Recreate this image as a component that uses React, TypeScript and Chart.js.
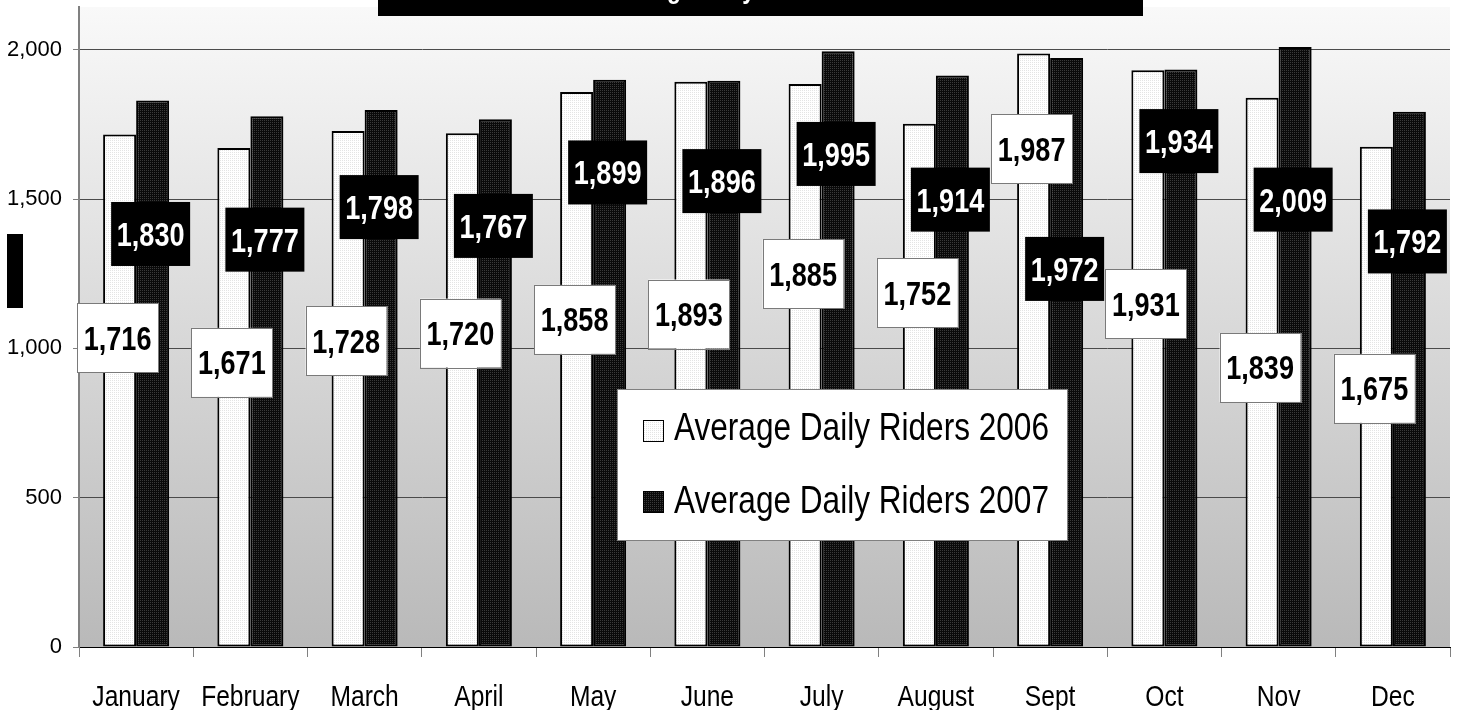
import React, { useEffect, useRef } from "react";
import { Chart, registerables } from "chart.js";

Chart.register(...registerables);

const months = ["January", "February", "March", "April", "May", "June", "July", "August", "Sept", "Oct", "Nov", "Dec"];
const riders2006 = [1716, 1671, 1728, 1720, 1858, 1893, 1885, 1752, 1987, 1931, 1839, 1675];
const riders2007 = [1830, 1777, 1798, 1767, 1899, 1896, 1995, 1914, 1972, 1934, 2009, 1792];
// where each value label box sits (in axis units), as placed in the original
const labelAt2006 = [1035, 953, 1026, 1051, 1097, 1115, 1249, 1187, 1669, 1150, 936, 866];
const labelAt2007 = [1383, 1364, 1473, 1410, 1589, 1560, 1651, 1498, 1266, 1694, 1498, 1358];
const yTicks = [0, 500, 1000, 1500, 2000];
const seriesNames = ["Average Daily Riders 2006", "Average Daily Riders 2007"];
const titleText = "Average Daily Riders";

const SANS = '"Liberation Sans", Arial, sans-serif';
const NARROW_SCALE = 0.82;

function makePattern(base: string, dot: string): CanvasPattern | string {
  const c = document.createElement("canvas");
  c.width = 2;
  c.height = 2;
  const x = c.getContext("2d");
  if (!x) return base;
  x.fillStyle = base;
  x.fillRect(0, 0, 2, 2);
  x.fillStyle = dot;
  x.fillRect(0, 0, 1, 1);
  const p = x.createPattern(c, "repeat");
  return p || base;
}

const fmt = (v: number) => v.toLocaleString("en-US");

// draw text in a condensed (Arial Narrow-like) style
function narrowText(
  ctx: CanvasRenderingContext2D,
  text: string,
  x: number,
  y: number,
  size: number,
  weight: string,
  align: CanvasTextAlign,
  color: string
) {
  ctx.save();
  ctx.font = `${weight} ${size}px ${SANS}`;
  ctx.textAlign = align;
  ctx.textBaseline = "alphabetic";
  ctx.fillStyle = color;
  ctx.translate(x, y);
  ctx.scale(NARROW_SCALE, 1);
  ctx.fillText(text, 0, 0);
  ctx.restore();
}

export default function App() {
  const ref = useRef<HTMLCanvasElement | null>(null);

  useEffect(() => {
    if (!ref.current) return;
    const white = makePattern("#ffffff", "#e4e4e4");
    const black = makePattern("#0a0a0a", "#3a3a3a");
    const labelPos = [labelAt2006, labelAt2007];

    const decor = {
      id: "decor",
      beforeDraw(chart: any) {
        const { ctx, chartArea: a } = chart;
        ctx.save();
        const g = ctx.createLinearGradient(0, a.top, 0, a.bottom);
        g.addColorStop(0, "#f9f9f9");
        g.addColorStop(1, "#b9b9b9");
        ctx.fillStyle = g;
        ctx.fillRect(a.left, a.top, a.right - a.left, a.bottom - a.top);
        ctx.restore();
      },
      afterDatasetsDraw(chart: any) {
        const { ctx } = chart;
        const y = chart.scales.y;
        chart.data.datasets.forEach((ds: any, i: number) => {
          const meta = chart.getDatasetMeta(i);
          meta.data.forEach((bar: any, j: number) => {
            const cx = bar.x - 2;
            const cy = y.getPixelForValue(labelPos[i][j]);
            const w = i === 0 ? 81 : 79;
            const h = i === 0 ? 69 : 64;
            ctx.save();
            if (i === 0) {
              ctx.fillStyle = "#ffffff";
              ctx.fillRect(cx - w / 2, cy - h / 2, w, h);
              ctx.strokeStyle = "#7a7a7a";
              ctx.lineWidth = 1;
              ctx.strokeRect(Math.round(cx - w / 2) + 0.5, Math.round(cy - h / 2) + 0.5, w, h);
            } else {
              ctx.fillStyle = "#000000";
              ctx.fillRect(cx - w / 2, cy - h / 2, w, h);
            }
            ctx.restore();
            narrowText(ctx, fmt(ds.data[j]), cx, cy + 12, 33, "bold", "center", i === 0 ? "#000000" : "#ffffff");
          });
        });
      },
      afterDraw(chart: any) {
        const { ctx } = chart;
        const xs = chart.scales.x;
        // category labels
        chart.data.labels.forEach((lab: string, i: number) => {
          narrowText(ctx, lab, xs.getPixelForTick(i), 706, 30, "normal", "center", "#000000");
        });
        ctx.save();
        // title box (clipped at top of the picture)
        ctx.fillStyle = "#000000";
        ctx.fillRect(378, 0, 765, 16);
        ctx.font = `bold 28px ${SANS}`;
        const start = 667 - ctx.measureText("Avera").width * NARROW_SCALE;
        ctx.restore();
        narrowText(ctx, titleText, start, -2, 28, "bold", "left", "#ffffff");
        ctx.save();
        // y axis title box
        ctx.fillStyle = "#000000";
        ctx.fillRect(7, 234, 16, 74);
        // legend
        const lx = 617, ly = 389, lw = 450, lh = 151;
        ctx.fillStyle = "#ffffff";
        ctx.fillRect(lx, ly, lw, lh);
        ctx.strokeStyle = "#808080";
        ctx.lineWidth = 1;
        ctx.strokeRect(lx + 0.5, ly + 0.5, lw, lh);
        ctx.restore();
        const markTop = [420, 491];
        const base = [440, 513];
        chart.data.datasets.forEach((ds: any, i: number) => {
          ctx.save();
          ctx.fillStyle = ds.backgroundColor;
          ctx.fillRect(643, markTop[i], 20, 21);
          ctx.strokeStyle = "#000000";
          ctx.lineWidth = 1;
          ctx.strokeRect(643.5, markTop[i] + 0.5, 20, 21);
          ctx.restore();
          narrowText(ctx, ds.label, 674, base[i], 38.5, "normal", "left", "#000000");
        });
      },
    };

    const chart = new Chart(ref.current, {
      type: "bar",
      data: {
        labels: months,
        datasets: [
          {
            label: seriesNames[0],
            data: riders2006,
            backgroundColor: white as any,
            borderColor: "#000000",
            borderWidth: 2,
            borderSkipped: false,
            categoryPercentage: 0.578,
            barPercentage: 1,
          },
          {
            label: seriesNames[1],
            data: riders2007,
            backgroundColor: black as any,
            borderColor: "#000000",
            borderWidth: 2,
            borderSkipped: false,
            categoryPercentage: 0.578,
            barPercentage: 1,
          },
        ],
      },
      options: {
        responsive: true,
        maintainAspectRatio: false,
        animation: false,
        layout: { padding: { top: 7, right: 8, left: 0, bottom: 0 } },
        plugins: {
          legend: { display: false },
          tooltip: { enabled: false },
          title: { display: false },
        },
        scales: {
          x: {
            afterFit: (s: any) => {
              s.height = 63;
              s.paddingLeft = 0;
              s.paddingRight = 0;
            },
            grid: {
              offset: true,
              drawOnChartArea: false,
              drawTicks: true,
              tickLength: 10,
              color: "#808080",
            },
            border: { display: true, color: "#000000", width: 1 },
            ticks: {
              display: false,
              autoSkip: false,
              maxRotation: 0,
            },
          },
          y: {
            min: 0,
            max: 2143,
            afterFit: (s: any) => {
              s.width = 79;
              s.paddingTop = 0;
              s.paddingBottom = 0;
            },
            afterBuildTicks: (s: any) => {
              s.ticks = yTicks.map((v) => ({ value: v }));
            },
            grid: {
              color: "#4a4a4a",
              tickColor: "#808080",
              tickLength: 6,
              lineWidth: 1,
            },
            border: { display: true, color: "#808080", width: 2 },
            ticks: {
              color: "#000000",
              padding: 11,
              font: { family: SANS, size: 22 },
              callback: (v: any) => fmt(Number(v)),
            },
          },
        },
      },
      plugins: [decor],
    });

    return () => chart.destroy();
  }, []);

  return (
    <div style={{ position: "fixed", left: 0, top: 0, width: 1458, height: 710, background: "#ffffff" }}>
      <canvas ref={ref} />
    </div>
  );
}
